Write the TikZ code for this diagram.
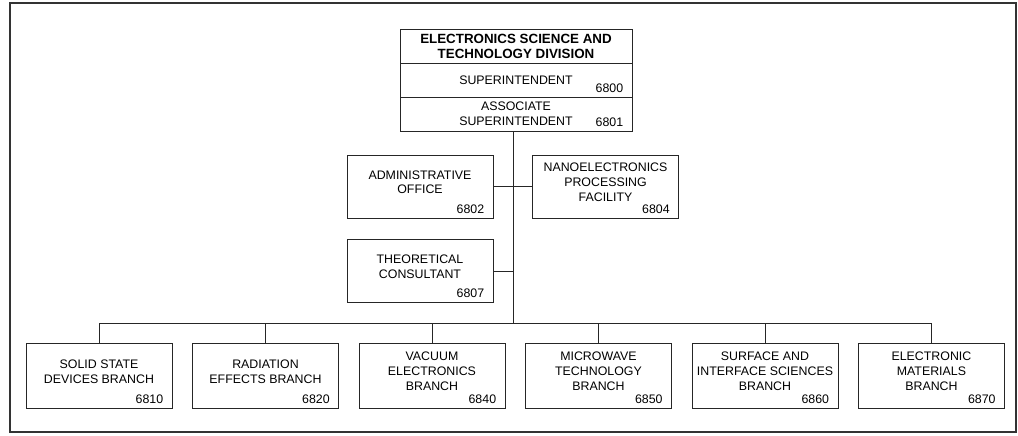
\documentclass[tikz,border=0pt]{standalone}
\usepackage{fontspec}
\setmainfont{Liberation Sans}
\usetikzlibrary{positioning}

\begin{document}
\begin{tikzpicture}[
    x=0.025cm, y=-0.025cm,
    node distance=0.49cm,
    unit/.style={rectangle, draw=black!85, line width=0.6pt, minimum width=3.65cm, minimum height=1.575cm, inner sep=0pt},
    branch/.style={unit, minimum height=1.625cm},
    sect/.style={rectangle, draw=black!85, line width=0.6pt, minimum width=5.8cm, minimum height=0.85cm, inner sep=0pt, align=center, font=\fontsize{8.8}{10.6}\selectfont},
    txt/.style={anchor=center, align=center, inner sep=0pt, yshift=3pt, font=\fontsize{8.8}{10.6}\selectfont},
    num/.style={anchor=south east, inner sep=0pt, xshift=-6.4pt, yshift=3.5pt, font=\fontsize{8.8}{10.6}\selectfont},
    link/.style={draw=black!85, line width=0.6pt}
]
    \useasboundingbox (0,0) rectangle (1018,435);
    \draw[black!80, line width=1.5pt] (10,3) rectangle (1016,432);

    % division head
    \node[sect, font=\fontsize{9.5}{10.8}\selectfont\bfseries] (div) at (516,46) {ELECTRONICS SCIENCE AND\\TECHNOLOGY DIVISION};
    \node[sect, below=-0.6pt of div, label={[num]south east:6800}] (sup) {SUPERINTENDENT};
    \node[sect, below=-0.6pt of sup, label={[num]south east:6801}] (asup) {ASSOCIATE\\SUPERINTENDENT};

    % staff offices
    \node[unit, label={[txt]center:ADMINISTRATIVE\\OFFICE}, label={[num]south east:6802}] (adm) at (420,186.5) {};
    \node[unit, label={[txt]center:NANOELECTRONICS\\PROCESSING\\FACILITY}, label={[num]south east:6804}] (nano) at (605.5,186.5) {};
    \node[unit, label={[txt]center:THEORETICAL\\CONSULTANT}, label={[num]south east:6807}] (theo) at (420,271) {};

    % branches
    \node[branch, label={[txt]center:SOLID STATE\\DEVICES BRANCH}, label={[num]south east:6810}] (ssd) at (99,375.5) {};
    \node[branch, right=of ssd, label={[txt]center:RADIATION\\EFFECTS BRANCH}, label={[num]south east:6820}] (rad) {};
    \node[branch, right=of rad, label={[txt]center:VACUUM\\ELECTRONICS\\BRANCH}, label={[num]south east:6840}] (vac) {};
    \node[branch, right=of vac, label={[txt]center:MICROWAVE\\TECHNOLOGY\\BRANCH}, label={[num]south east:6850}] (mw) {};
    \node[branch, right=of mw, label={[txt]center:SURFACE AND\\INTERFACE SCIENCES\\BRANCH}, label={[num]south east:6860}] (sis) {};
    \node[branch, right=of sis, label={[txt]center:ELECTRONIC\\MATERIALS\\BRANCH}, label={[num]south east:6870}] (emb) {};

    \coordinate (bus) at (513,323);
    \draw[link] (bus |- asup.south) -- (bus);
    \draw[link] (adm.east) -- (nano.west);
    \draw[link] (theo.east) -- (theo.east -| bus);
    \draw[link] (ssd.north |- bus) -- (emb.north |- bus);
    \draw[link] (ssd.north) -- (ssd.north |- bus);
    \draw[link] (rad.north) -- (rad.north |- bus);
    \draw[link] (vac.north) -- (vac.north |- bus);
    \draw[link] (mw.north) -- (mw.north |- bus);
    \draw[link] (sis.north) -- (sis.north |- bus);
    \draw[link] (emb.north) -- (emb.north |- bus);
\end{tikzpicture}
\end{document}
